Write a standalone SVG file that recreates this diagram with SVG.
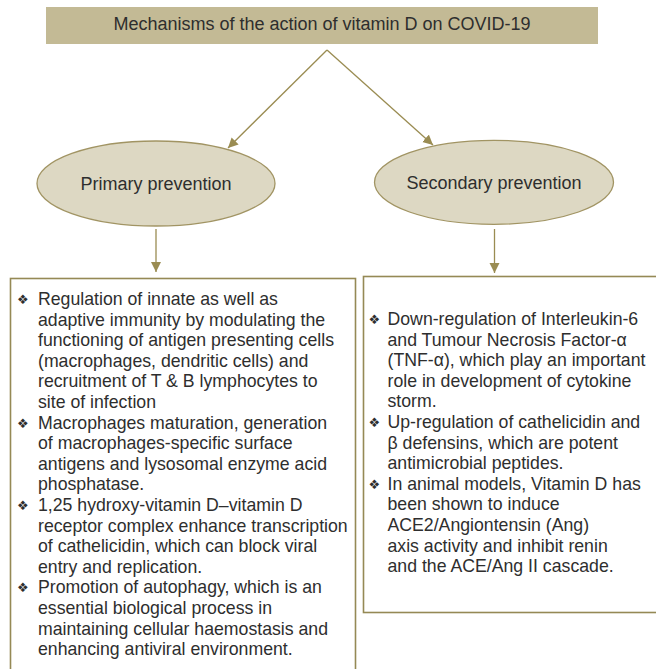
<svg xmlns="http://www.w3.org/2000/svg" width="656" height="669" viewBox="0 0 656 669">
<style>
.t{font-family:"Liberation Sans",Arial,sans-serif;fill:#2e2e2e}
.title{font-size:18px;text-anchor:middle}
.oval{font-size:18px;text-anchor:middle}
.body{font-size:17.7px}
.bul{font-family:"DejaVu Sans",sans-serif;font-size:13px;fill:#2e2e2e}
.conn{stroke:#9a8c52;stroke-width:1.3;fill:none}
.box{fill:#ffffff;stroke:#958955;stroke-width:1.6}
.ell{fill:#ddd8c3;stroke:#a19463;stroke-width:1.3}
</style>
<defs>
<marker id="ah" markerUnits="userSpaceOnUse" markerWidth="12" markerHeight="12" refX="10" refY="5" orient="auto">
<path d="M0,0 L10,5 L0,10 z" fill="#9a8c52"/>
</marker>
</defs>
<rect width="656" height="669" fill="#ffffff"/>
<g id="title">
<rect x="46" y="7" width="552" height="37" fill="#c3ba95"/>
<text class="t title" x="322" y="29.5">Mechanisms of the action of vitamin D on COVID-19</text>
</g>
<g id="primary">
<ellipse class="ell" cx="156" cy="183.5" rx="119" ry="42.5"/>
<text class="t oval" x="156" y="189.5">Primary prevention</text>
</g>
<g id="secondary">
<ellipse class="ell" cx="494" cy="182.3" rx="119.5" ry="42"/>
<text class="t oval" x="494" y="188.5">Secondary prevention</text>
</g>
<g id="connectors">
<line class="conn" x1="327" y1="50" x2="228" y2="148" marker-end="url(#ah)"/>
<line class="conn" x1="327" y1="50" x2="433" y2="145" marker-end="url(#ah)"/>
<line class="conn" x1="156" y1="229" x2="156" y2="272" marker-end="url(#ah)"/>
<line class="conn" x1="494.5" y1="229" x2="494.5" y2="273" marker-end="url(#ah)"/>
</g>
<g id="primary-box">
<rect class="box" x="10.5" y="278.5" width="345" height="420"/>
<text class="bul" x="17" y="304">❖</text>
<text class="bul" x="17" y="427.6">❖</text>
<text class="bul" x="17" y="510">❖</text>
<text class="bul" x="17" y="592.4">❖</text>
<text class="t body" x="38">
<tspan x="38" y="305">Regulation of innate as well as</tspan>
<tspan x="38" y="325.6">adaptive immunity by modulating the</tspan>
<tspan x="38" y="346.2">functioning of antigen presenting cells</tspan>
<tspan x="38" y="366.8">(macrophages, dendritic cells) and</tspan>
<tspan x="38" y="387.4">recruitment of T &amp; B lymphocytes to</tspan>
<tspan x="38" y="408">site of infection</tspan>
<tspan x="38" y="428.6">Macrophages maturation, generation</tspan>
<tspan x="38" y="449.2">of macrophages-specific surface</tspan>
<tspan x="38" y="469.8">antigens and lysosomal enzyme acid</tspan>
<tspan x="38" y="490.4">phosphatase.</tspan>
<tspan x="38" y="511">1,25 hydroxy-vitamin D–vitamin D</tspan>
<tspan x="38" y="531.6">receptor complex enhance transcription</tspan>
<tspan x="38" y="552.2">of cathelicidin, which can block viral</tspan>
<tspan x="38" y="572.8">entry and replication.</tspan>
<tspan x="38" y="593.4">Promotion of autophagy, which is an</tspan>
<tspan x="38" y="614">essential biological process in</tspan>
<tspan x="38" y="634.6">maintaining cellular haemostasis and</tspan>
<tspan x="38" y="655.2">enhancing antiviral environment.</tspan>
</text>
</g>
<g id="secondary-box">
<rect class="box" x="363.5" y="276.5" width="300" height="336"/>
<text class="bul" x="368.5" y="324">❖</text>
<text class="bul" x="368.5" y="427">❖</text>
<text class="bul" x="368.5" y="488.8">❖</text>
<text class="t body">
<tspan x="387.5" y="325">Down-regulation of Interleukin-6</tspan>
<tspan x="387.5" y="345.6">and Tumour Necrosis Factor-α</tspan>
<tspan x="387.5" y="366.2">(TNF-α), which play an important</tspan>
<tspan x="387.5" y="386.8">role in development of cytokine</tspan>
<tspan x="387.5" y="407.4">storm.</tspan>
<tspan x="387.5" y="428">Up-regulation of cathelicidin and</tspan>
<tspan x="387.5" y="448.6">β defensins, which are potent</tspan>
<tspan x="387.5" y="469.2">antimicrobial peptides.</tspan>
<tspan x="387.5" y="489.8">In animal models, Vitamin D has</tspan>
<tspan x="387.5" y="510.4">been shown to induce</tspan>
<tspan x="387.5" y="531">ACE2/Angiontensin (Ang)</tspan>
<tspan x="387.5" y="551.6">axis activity and inhibit renin</tspan>
<tspan x="387.5" y="572.2">and the ACE/Ang II cascade.</tspan>
</text>
</g>
</svg>
